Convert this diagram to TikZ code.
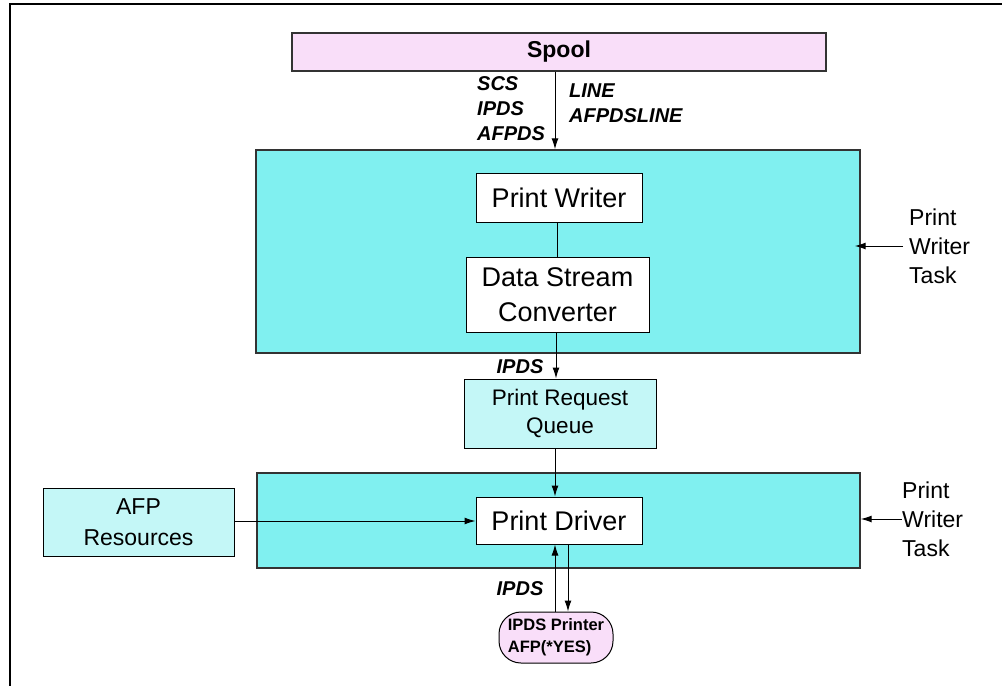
\documentclass[tikz,border=0pt]{standalone}
\usepackage{fontspec}
\setmainfont{Liberation Sans}
\usetikzlibrary{arrows.meta, positioning, shapes}
\definecolor{taskcyan}{RGB}{128,240,240}
\definecolor{palecyan}{RGB}{196,247,247}
\definecolor{spoolpink}{RGB}{249,222,249}
\tikzset{
    arr/.style={-{Latex[length=11pt, width=7pt]}, line width=1pt},
    taskbox/.style={draw=black!80, line width=1.4pt, fill=taskcyan},
    inbox/.style={draw, line width=1pt, fill=white, inner sep=0pt, align=center,
        font=\fontsize{27}{34}\selectfont},
    qbox/.style={draw, line width=1pt, fill=palecyan, inner sep=0pt, align=center},
    flow/.style={font=\fontsize{20}{25}\selectfont\bfseries\itshape, inner sep=0pt, align=left},
    tasklabel/.style={font=\fontsize{23}{29}\selectfont, inner sep=0pt, align=left, anchor=west}
}

\begin{document}
\begin{tikzpicture}[x=1pt, y=-1pt]
    \useasboundingbox (0,0) rectangle (1002,686);
    \draw[line width=2.6pt] (1002,4) -| (10,686);
    % spool and the two task areas
    \node[draw=black!80, line width=1.4pt, fill=spoolpink, minimum width=534pt, minimum height=38pt,
        inner sep=0pt, font=\fontsize{23}{28}\selectfont\bfseries] (spool) at (559,52) {Spool};
    \node[taskbox, minimum width=604pt, minimum height=203pt, inner sep=0pt] (pwtask) at (558,251.5) {};
    \node[taskbox, minimum width=603pt, minimum height=95pt, inner sep=0pt] (pdtask) at (558.5,520.5) {};
    % boxes
    \node[inbox, minimum width=166pt, minimum height=49pt] (pw) at (559,197.5) {Print Writer};
    \node[inbox, minimum width=183pt, minimum height=75pt, font=\fontsize{27}{35}\selectfont] (dsc) at (557.5,294.5) {Data Stream\\Converter};
    \node[qbox, minimum width=192pt, minimum height=69pt, font=\fontsize{22.5}{28}\selectfont] (prq) at (560,413.5) {Print Request\\Queue};
    \node[inbox, minimum width=166pt, minimum height=47pt] (pd) at (559,520.5) {Print Driver};
    \node[qbox, minimum width=191pt, minimum height=68pt, font=\fontsize{23}{31}\selectfont] (afp) at (138.5,522) {AFP\\Resources};
    \node[draw, line width=1pt, fill=spoolpink, rounded corners=22pt, minimum width=114pt, minimum height=51pt,
        inner sep=0pt, align=left, font=\fontsize{16.5}{22}\selectfont\bfseries] (printer) at (556,637.5) {IPDS Printer\\AFP(*YES)};
    % labels
    \node[flow, anchor=west] (in1) at (477,109) {SCS\\IPDS\\AFPDS};
    \node[flow, anchor=west] (in2) at (569,103.5) {LINE\\AFPDSLINE};
    \node[flow] (ipds1) at (520,367) {IPDS};
    \node[flow] (ipds2) at (520,589) {IPDS};
    \node[tasklabel] (lab1) at (909,246) {Print\\Writer\\Task};
    \node[tasklabel] (lab2) at (902,519) {Print\\Writer\\Task};
    % connectors
    \draw[arr] ([xshift=-4pt]spool.south) -- ([xshift=-4pt]spool.south |- pwtask.north);
    \draw[line width=1pt] ([xshift=-2pt]pw.south) -- ([xshift=-2pt]pw.south |- dsc.north);
    \draw[arr] ([xshift=-1.5pt]dsc.south) -- ([xshift=-1.5pt]dsc.south |- prq.north);
    \draw[arr] ([xshift=-5pt]prq.south) -- ([xshift=-5pt]prq.south |- pd.north);
    \draw[arr] (afp.east |- 0,521) -- (pd.west |- 0,521);
    \draw[arr] ([xshift=-1pt]printer.north) -- ([xshift=-1pt]printer.north |- pd.south);
    \draw[arr] ([xshift=9pt]pd.south) -- ([xshift=9pt]pd.south |- printer.north);
    \draw[arr] ([xshift=-6pt]lab1.west) -- ([xshift=-6pt]lab1.west -| pwtask.east);
    \draw[arr] (lab2.west) -- (lab2.west -| pdtask.east);
\end{tikzpicture}
\end{document}
